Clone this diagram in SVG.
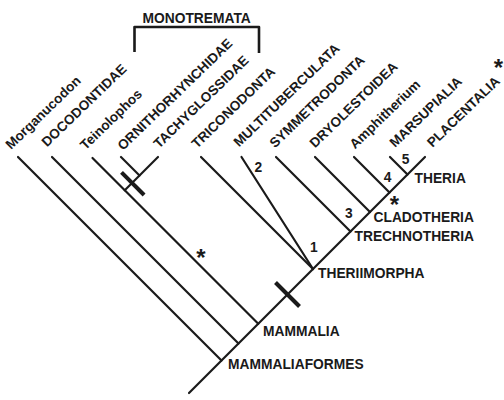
<svg xmlns="http://www.w3.org/2000/svg" width="504" height="400" viewBox="0 0 504 400">
<style>
.ln{stroke:#1a1a1a;stroke-width:2.2;fill:none;stroke-linecap:round;stroke-linejoin:round}
.bar{stroke:#1a1a1a;stroke-width:4;fill:none}
.t{font-family:"Liberation Sans",Arial,sans-serif;font-weight:bold;font-size:13.8px;fill:#1a1a1a}
.r{font-family:"Liberation Sans",Arial,sans-serif;font-weight:bold;font-size:13.6px;fill:#1a1a1a}
.ast{font-family:"Liberation Sans",Arial,sans-serif;font-weight:bold;font-size:24px;fill:#1a1a1a;text-anchor:middle}
</style>
<rect width="504" height="400" fill="#fff"/>
<g id="connectors">
<path class="ln" d="M189,393 L425,157"/>
<path class="ln" d="M18,157 L221.5,360.5"/>
<path class="ln" d="M52,157 L238.5,343.5"/>
<path class="ln" d="M92.5,158 L258.25,323.75"/>
<path class="ln" d="M121,157 L139.5,175.5"/>
<path class="ln" d="M158,157 L124.75,190.25"/>
<path class="ln" d="M201,157 L313,269"/>
<path class="ln" d="M241.5,157 L313,269"/>
<path class="ln" d="M276,157 L350.5,231.5"/>
<path class="ln" d="M315,157 L370,212"/>
<path class="ln" d="M354,157 L389.5,192.5"/>
<path class="ln" d="M390,157 L407.5,174.5"/>
<path class="bar" d="M121.5,172.4 L144.1,195"/>
<path class="bar" d="M275.5,282.5 L299.5,306.5"/>
<path class="ln" style="stroke-width:2.6;stroke-linecap:butt" d="M134.5,52 V27 H259 V53"/>
</g>
<g id="tips">
<text id="morganucodon" class="r" transform="translate(11,150) rotate(-44)">Morganucodon</text>
<text id="docodontidae" class="r" transform="translate(47,147.5) rotate(-44)">DOCODONTIDAE</text>
<text id="teinolophos" class="r" transform="translate(85.5,150.5) rotate(-44)">Teinolophos</text>
<text id="ornithorhynchidae" class="r" transform="translate(123,151) rotate(-44)">ORNITHORHYNCHIDAE</text>
<text id="tachyglossidae" class="r" transform="translate(159,149) rotate(-44)">TACHYGLOSSIDAE</text>
<text id="triconodonta" class="r" transform="translate(197,149) rotate(-44)">TRICONODONTA</text>
<text id="multituberculata" class="r" transform="translate(239,147.5) rotate(-44)">MULTITUBERCULATA</text>
<text id="symmetrodonta" class="r" transform="translate(275,148.5) rotate(-44)">SYMMETRODONTA</text>
<text id="dryolestoidea" class="r" transform="translate(315,148.5) rotate(-44)">DRYOLESTOIDEA</text>
<text id="amphitherium" class="r" transform="translate(355,149.5) rotate(-44)">Amphitherium</text>
<text id="marsupialia" class="r" transform="translate(395,148) rotate(-44)">MARSUPIALIA</text>
<text id="placentalia" class="r" transform="translate(432.5,148) rotate(-44)">PLACENTALIA</text>
</g>
<g id="clades">
<text id="monotremata" class="t" x="142.5" y="22.7">MONOTREMATA</text>
<text id="theria" class="t" x="414.5" y="182.7">THERIA</text>
<text id="cladotheria" class="t" x="373.5" y="221.7">CLADOTHERIA</text>
<text id="trechnotheria" class="t" x="354.5" y="241">TRECHNOTHERIA</text>
<text id="theriimorpha" class="t" x="318" y="278.3">THERIIMORPHA</text>
<text id="mammalia" class="t" x="263" y="336">MAMMALIA</text>
<text id="mammaliaformes" class="t" x="228" y="369">MAMMALIAFORMES</text>
</g>
<g id="numbers">
<text class="t" x="310" y="251.7">1</text>
<text class="t" x="254.5" y="171.7">2</text>
<text class="t" x="345" y="218.3">3</text>
<text class="t" x="383.8" y="182.3">4</text>
<text class="t" x="401.8" y="164">5</text>
</g>
<g id="asterisks">
<text class="ast" x="394.3" y="212.5">*</text>
<text class="ast" x="201" y="265.7">*</text>
<text class="ast" x="498.3" y="76.3">*</text>
</g>
</svg>
